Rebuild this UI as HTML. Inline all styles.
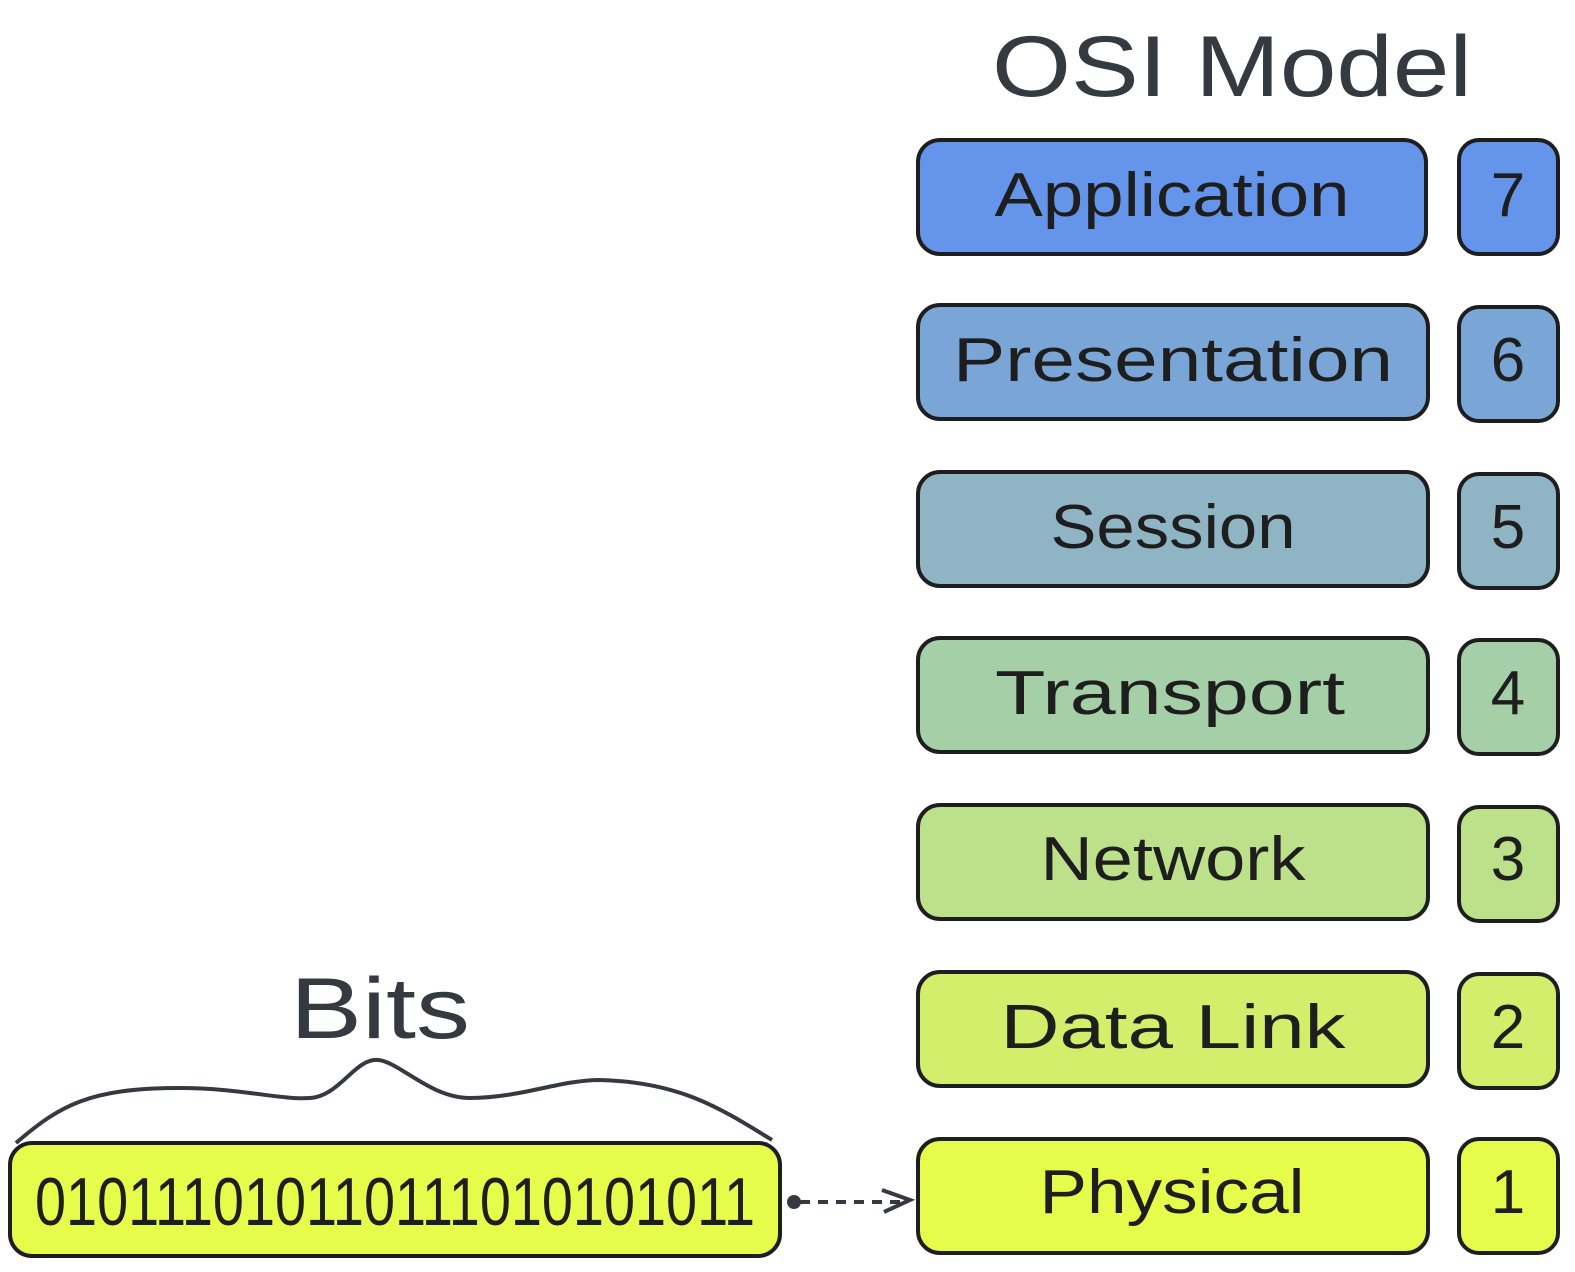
<!DOCTYPE html>
<html><head><meta charset="utf-8"><style>html,body{margin:0;padding:0;background:#fff}svg{display:block}</style></head>
<body>
<svg width="1575" height="1272" viewBox="0 0 1575 1272" xmlns="http://www.w3.org/2000/svg" font-family="Liberation Sans, sans-serif" fill="#1e1e1e">
<g stroke="#1e1e1e" stroke-width="4">
<rect x="918" y="140" width="508" height="114" rx="22" fill="#6495ea"/>
<rect x="1459" y="140" width="99" height="114" rx="20" fill="#6495ea"/>
<rect x="918" y="305" width="510" height="114" rx="22" fill="#7aa6d7"/>
<rect x="1459" y="307" width="99" height="114" rx="20" fill="#7aa6d7"/>
<rect x="918" y="472" width="510" height="114" rx="22" fill="#8fb4c4"/>
<rect x="1459" y="474" width="99" height="114" rx="20" fill="#8fb4c4"/>
<rect x="918" y="638" width="510" height="114" rx="22" fill="#a5cfa7"/>
<rect x="1459" y="640" width="99" height="114" rx="20" fill="#a5cfa7"/>
<rect x="918" y="805" width="510" height="114" rx="22" fill="#bde18a"/>
<rect x="1459" y="807" width="99" height="114" rx="20" fill="#bde18a"/>
<rect x="918" y="972" width="510" height="114" rx="22" fill="#d3ee6a"/>
<rect x="1459" y="974" width="99" height="114" rx="20" fill="#d3ee6a"/>
<rect x="918" y="1139" width="510" height="114" rx="22" fill="#e6fc4b"/>
<rect x="1459" y="1139" width="99" height="114" rx="20" fill="#e6fc4b"/>
<rect x="10" y="1143" width="770" height="113" rx="22" fill="#e6fc4b"/>
</g>
<path d="M16 1143 C60 1105 90 1088 180 1088 C240 1088 280 1100 310 1098 C340 1096 355 1058 378 1060 C400 1062 430 1098 470 1098 C520 1098 560 1080 600 1080 C680 1082 720 1108 772 1140" fill="none" stroke="#343a40" stroke-width="4"/>
<circle cx="794" cy="1202" r="7" fill="#343a40"/>
<line x1="800" y1="1202" x2="908" y2="1202" stroke="#343a40" stroke-width="4" stroke-dasharray="10 8"/>
<path d="M882 1190 L910 1200 L884 1212" fill="none" stroke="#343a40" stroke-width="4"/>
<g font-size="62" text-anchor="middle">
<text x="1172" y="216" textLength="355" lengthAdjust="spacingAndGlyphs">Application</text>
<text x="1173" y="381" textLength="440" lengthAdjust="spacingAndGlyphs">Presentation</text>
<text x="1173" y="548" textLength="245" lengthAdjust="spacingAndGlyphs">Session</text>
<text x="1170" y="714" textLength="350" lengthAdjust="spacingAndGlyphs">Transport</text>
<text x="1173" y="880" textLength="265" lengthAdjust="spacingAndGlyphs">Network</text>
<text x="1173" y="1048" textLength="345" lengthAdjust="spacingAndGlyphs">Data Link</text>
<text x="1172" y="1213" textLength="265" lengthAdjust="spacingAndGlyphs">Physical</text>
<text x="1508" y="216">7</text>
<text x="1508" y="381">6</text>
<text x="1508" y="548">5</text>
<text x="1508" y="714">4</text>
<text x="1508" y="880">3</text>
<text x="1508" y="1048">2</text>
<text x="1508" y="1213">1</text>
<text x="395" y="1225" textLength="720" lengthAdjust="spacingAndGlyphs" font-size="68">010111010110111010101011</text>
</g>
<g font-size="86" text-anchor="middle" fill="#343a40">
<text x="1232" y="96" textLength="480" lengthAdjust="spacingAndGlyphs">OSI Model</text>
<text x="380" y="1038" textLength="180" lengthAdjust="spacingAndGlyphs">Bits</text>
</g>
</svg>
</body></html>
